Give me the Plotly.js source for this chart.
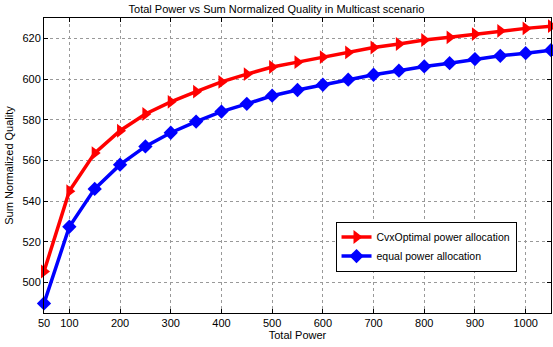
<!DOCTYPE html>
<html>
<head>
<meta charset="utf-8">
<script src="https://cdn.plot.ly/plotly-3.0.1.min.js"></script>
<style>html,body{margin:0;padding:0;background:#fff}#chart{width:553px;height:347px}</style>
</head>
<body>
<div id="chart"></div>
<script>
const power = [50,100,150,200,250,300,350,400,450,500,550,600,650,700,750,800,850,900,950,1000,1050];
const cvxOptimal = [505.4,544.9,563.6,574.6,582.8,588.8,593.8,598.6,602.4,605.9,608.3,610.8,613.1,615.5,617.2,619.2,620.5,622.1,623.7,624.9,626.0];
const equalAlloc = [489.7,527.4,546.0,557.9,566.9,573.6,579.1,584.0,587.8,591.8,594.6,597.2,599.7,602.1,604.1,606.2,607.8,609.8,611.4,612.7,614.2];
const xTicks = [50,100,200,300,400,500,600,700,800,900,1000];
const yTicks = [500,520,540,560,580,600,620];
const seriesNames = ['CvxOptimal power allocation','equal power allocation'];

const font = {family:'Liberation Sans, Arial, sans-serif', size:11, color:'#000'};
const traces = [
  {x:power, y:cvxOptimal, name:seriesNames[0], type:'scatter', mode:'lines+markers', cliponaxis:false,
   line:{color:'#ff0000', width:3.5}, marker:{symbol:'triangle-right', size:12, color:'#ff0000'}},
  {x:power, y:equalAlloc, name:seriesNames[1], type:'scatter', mode:'lines+markers', cliponaxis:false,
   line:{color:'#0000ff', width:3.5}, marker:{symbol:'diamond', size:11, color:'#0000ff'}}
];
const axCommon = {showline:true, linecolor:'#000', linewidth:1, mirror:'ticks', ticks:'inside', ticklen:4,
  tickcolor:'#000', showgrid:true, gridcolor:'#999', griddash:'dot', gridwidth:1, zeroline:false, tickfont:font};
const layout = {
  width:553, height:347, font:font, paper_bgcolor:'#fff', plot_bgcolor:'#fff',
  margin:{l:44, r:2, t:18, b:34},
  title:{text:'Total Power vs Sum Normalized Quality in Multicast scenario', font:{...font, size:11}, x:0.5, xanchor:'center', y:0.985, yanchor:'top'},
  xaxis:Object.assign({}, axCommon, {range:[50,1050], tickvals:xTicks, ticktext:xTicks.map(String),
    title:{text:'Total Power', font:font, standoff:2}}),
  yaxis:Object.assign({}, axCommon, {range:[485,630], tickvals:yTicks, ticktext:yTicks.map(String),
    title:{text:'Sum Normalized Quality', font:font, standoff:6}}),
  showlegend:true,
  legend:{x:0.575, y:0.31, xanchor:'left', yanchor:'top', bgcolor:'#fff', bordercolor:'#000', borderwidth:1,
    font:{...font, size:10.5}, tracegroupgap:0, itemwidth:30}
};
Plotly.newPlot('chart', traces, layout, {displayModeBar:false, staticPlot:true});
</script>
</body>
</html>
